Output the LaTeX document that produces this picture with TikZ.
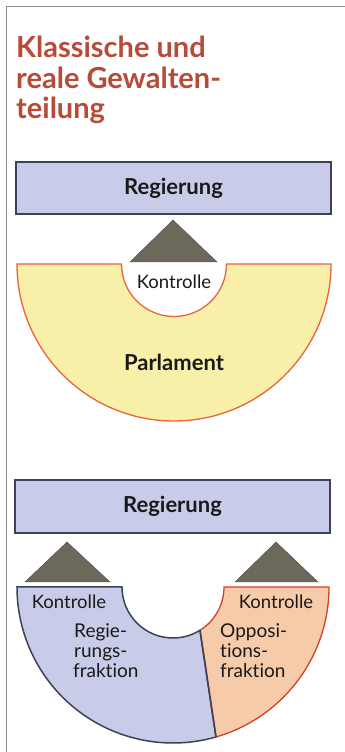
\documentclass[tikz,border=0pt]{standalone}
\usepackage{fontspec}
\setmainfont{Lato}[Ligatures=NoCommon]
\usetikzlibrary{calc}
\definecolor{titlered}{HTML}{B84A38}
\definecolor{govblue}{HTML}{C9CCE8}
\definecolor{govline}{HTML}{3C4258}
\definecolor{parlyellow}{HTML}{F8F0A8}
\definecolor{parlline}{HTML}{E8643C}
\definecolor{oppfill}{HTML}{F6CBAA}
\definecolor{oppline}{HTML}{D0402E}
\definecolor{trifill}{HTML}{6C685C}
\definecolor{framegray}{HTML}{8C8C8C}
\tikzset{
  govbox/.style={draw=govline, fill=govblue, line width=1.6pt},
  tri/.style={fill=trifill, draw=trifill!70!black, line width=0.4pt},
  labbold/.style={font=\fontsize{22}{24}\selectfont\bfseries, text=black!90},
  lab/.style={font=\fontsize{18.5}{20}\selectfont, text=black!90},
  fraklab/.style={font=\fontsize{19}{20}\selectfont, text=black!90, anchor=base west, inner sep=0pt},
  titlestyle/.style={font=\fontsize{29}{31}\selectfont\bfseries, text=titlered, anchor=base west, inner sep=0pt},
}
\begin{document}
\begin{tikzpicture}[x=1pt,y=1pt]
\useasboundingbox (0,0) rectangle (345,752);
\fill[white] (0,0) rectangle (345,752);
% frame
\draw[framegray, line width=0.8pt] (6,0) -- (6,746) -- (345,746);
% title
\node[titlestyle] (t1) at (16,694) {Klassische und};
\node[titlestyle] (t2) at (16,663) {reale Gewalten-};
\node[titlestyle] (t3) at (16,633) {teilung};

% ---- upper diagram
\node[govbox, minimum width=315pt, minimum height=52pt, inner sep=0pt, labbold] (reg1) at (173.5,564) {Regierung};
\draw[tri] (130,490) -- (173,532) -- (217,490) -- cycle;
\coordinate (c1) at (174,488);
\draw[fill=parlyellow, draw=parlline, line width=1.3pt]
  (17,488) -- (121.5,488) arc[start angle=180, end angle=360, radius=52.5]
  -- (331,488) arc[start angle=0, end angle=-180, radius=157] -- cycle;
\node[lab] (k1) at (174,470) {Kontrolle};
\node[labbold] (parl) at (174,390) {Parlament};

% ---- lower diagram
\node[govbox, minimum width=315pt, minimum height=53pt, inner sep=0pt, labbold] (reg2) at (172.5,245.5) {Regierung};
\draw[tri] (25,170) -- (67,210) -- (110,170) -- cycle;
\draw[tri] (235,170) -- (276,210) -- (318,170) -- cycle;
\coordinate (c2) at (173,165);
% blue part
\draw[fill=govblue, draw=govline, line width=1.5pt]
  (17,165) -- (122,165) arc[start angle=180, end angle=302, radius=51]
  -- ($(c2)+(-74:156)$) arc[start angle=-74, end angle=-180, radius=156] -- cycle;
% orange part
\draw[fill=oppfill, draw=oppline, line width=1.3pt]
  ($(c2)+(-58:51)$) arc[start angle=-58, end angle=0, radius=51]
  -- (329,165) arc[start angle=0, end angle=-74, radius=156] -- cycle;
\draw[govline, line width=1.6pt] ($(c2)+(-58:51)$) -- ($(c2)+(-74:156)$);
\node[lab] (k2) at (69,150) {Kontrolle};
\node[lab] (k3) at (276,150) {Kontrolle};
\node[fraklab] (rf1) at (74,114) {Regie-};
\node[fraklab] (rf2) at (74,94) {rungs-};
\node[fraklab] (rf3) at (73,74) {fraktion};
\node[fraklab] (of1) at (220,114) {Opposi-};
\node[fraklab] (of2) at (220,94) {tions-};
\node[fraklab] (of3) at (220,74) {fraktion};
\end{tikzpicture}
\end{document}
